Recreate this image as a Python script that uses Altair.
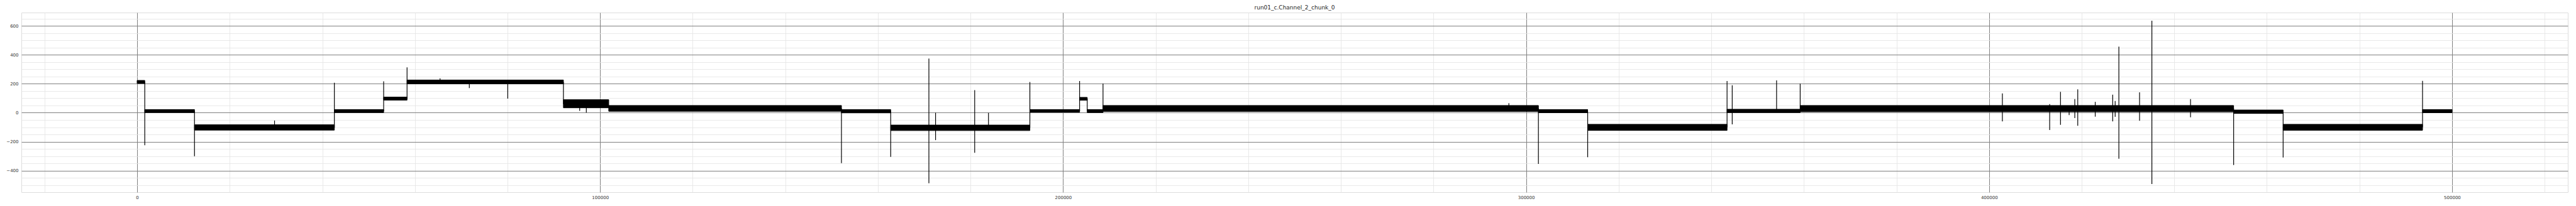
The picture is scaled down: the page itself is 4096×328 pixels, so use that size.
import altair as alt
import pandas as pd

# ---- data ----
# plateau segments (sample index start/end, lower/upper edge of the noise band)
seg_start = [0, 1650, 12390, 42600, 53245, 58300, 92075, 101860, 152126, 162764, 192820,
             203560, 205210, 208620, 302660, 313300, 343405, 359200, 452820, 463510, 493620]
seg_end = [1650, 12390, 42600, 53245, 58300, 92075, 101860, 152126, 162764, 192820, 203560,
           205210, 208620, 302660, 313300, 343405, 359200, 452820, 463510, 493620, 500000]
seg_low = [202, 1, -120, 1, 87, 199, 34, 10, -1, -123, 3,
           86, 1, 9, 0, -122, 1, 7, -5, -121, 0]
seg_high = [223, 22, -83, 22, 108, 226, 90, 50, 22, -85, 22,
            106, 22, 50, 22, -80, 24, 50, 19, -80, 22]

# vertical strokes: steps between plateaus and isolated spikes
spike_x = [1650, 12390, 29680, 42600, 53245, 58300, 65430, 71750, 80050, 92075,
           95585, 97020, 152126, 162764, 171010, 172450, 180900, 183880, 192820, 203560,
           205210, 208620, 296277, 302660, 313300, 343405, 344520, 354100, 359200, 402870,
           413085, 415425, 417290, 418510, 419150, 422925, 426700, 427230, 428030, 432500,
           435160, 443510, 452820, 463510, 493620]
spike_lo = [-224, -300, -100, -103, 11, 98, 212, 170, 97, 60,
            13, 1, -348, -305, -487, -189, -276, -100, -103, 11,
            11, 11, 30, -353, -307, -100, -80, 11, 11, -60,
            -119, -83, -16, -37, -90, -27, -60, -28, -318, -55,
            -492, -31, -361, -309, -100]
spike_hi = [212, 11, -54, 207, 217, 313, 237, 212, 212, 212,
            55, 55, 30, 11, 374, 0, 156, -1, 212, 219,
            96, 201, 66, 30, 11, 219, 190, 223, 201, 133,
            60, 144, 30, 94, 161, 75, 125, 81, 456, 141,
            635, 94, 30, 8, 220]

# axis ticks
x_major = [0, 100000, 200000, 300000, 400000, 500000]
x_minor = list(range(-20000, 525001, 20000))
y_major = [-400, -200, 0, 200, 400, 600]
y_minor = list(range(-500, 651, 50))

TITLE = "run01_c.Channel_2_chunk_0"

segs = pd.DataFrame({"start": seg_start, "end": seg_end, "low": seg_low, "high": seg_high})
spikes = pd.DataFrame({"x": spike_x, "lo": spike_lo, "hi": spike_hi})

all_y = seg_low + seg_high + spike_lo + spike_hi
ymin, ymax = min(all_y), max(all_y)
pad = 0.05 * (ymax - ymin)
x_dom = [-25000, 525000]
y_dom = [ymin - pad, ymax + pad]

xs = alt.Scale(domain=x_dom, nice=False, zero=False)
ys = alt.Scale(domain=y_dom, nice=False, zero=False)

FONT = "DejaVu Sans"

minor_x_axis = alt.Axis(values=x_minor, grid=True, gridColor="#e3e3e3", gridWidth=0.8,
                        labels=False, ticks=False, domain=False, title=None, orient="bottom")
minor_y_axis = alt.Axis(values=y_minor, grid=True, gridColor="#e3e3e3", gridWidth=0.8,
                        labels=False, ticks=False, domain=False, title=None, orient="left")
major_x_axis = alt.Axis(values=x_major, grid=True, gridColor="#808080", gridWidth=1,
                        labels=True, ticks=False, tickSize=0, domain=False, title=None,
                        orient="bottom", format="d", labelFont=FONT, labelFontSize=7,
                        labelColor="#333333", labelPadding=4)
major_y_axis = alt.Axis(values=y_major, grid=True, gridColor="#808080", gridWidth=1,
                        labels=True, ticks=False, tickSize=0, domain=False, title=None,
                        orient="left", format="d", labelFont=FONT, labelFontSize=7,
                        labelColor="#333333", labelPadding=5)

bands = alt.Chart(segs).mark_rect(color="black", stroke="black", strokeWidth=1).encode(
    x=alt.X("start:Q", scale=xs, axis=minor_x_axis),
    x2="end:Q",
    y=alt.Y("low:Q", scale=ys, axis=minor_y_axis),
    y2="high:Q",
)

rules = alt.Chart(spikes).mark_rule(color="black", strokeWidth=1.2).encode(
    x=alt.X("x:Q", scale=xs, axis=major_x_axis),
    y=alt.Y("lo:Q", scale=ys, axis=major_y_axis),
    y2="hi:Q",
)

chart = (
    alt.layer(bands, rules)
    .resolve_axis(x="independent", y="independent")
    .properties(
        width=4049,
        height=286,
        title=alt.TitleParams(TITLE, font=FONT, fontSize=9, fontWeight="normal",
                              color="#262626", anchor="middle", offset=3),
        padding={"left": 26, "top": 12, "right": 5, "bottom": 14},
        autosize=alt.AutoSizeParams(type="none"),
    )
    .configure_view(stroke="#cccccc", strokeWidth=1)
    .configure(background="white")
)

chart.save("out.html", embed_options={"renderer": "svg", "actions": False})
